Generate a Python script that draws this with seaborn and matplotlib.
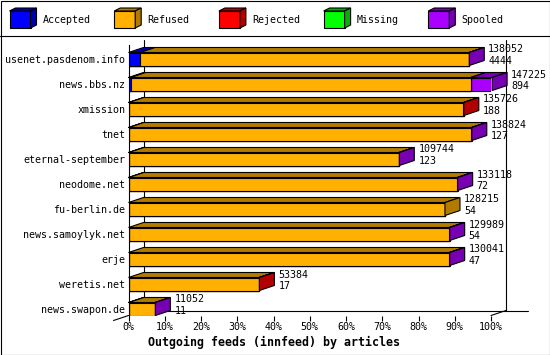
import numpy as np
import matplotlib
matplotlib.use("Agg")
import matplotlib.pyplot as plt
import seaborn as sns
import pandas as pd
from matplotlib.patches import Polygon, Rectangle
from matplotlib.lines import Line2D
from matplotlib.transforms import IdentityTransform, offset_copy

# ---------------- data ----------------
hosts = ["usenet.pasdenom.info", "news.bbs.nz", "xmission", "tnet",
         "eternal-september", "neodome.net", "fu-berlin.de",
         "news.samoylyk.net", "erje", "weretis.net", "news.swapon.de"]
accepted = [3.2, 0.6, 0.1, 0.1, 0.1, 0.1, 0.0, 0.0, 0.0, 0.0, 0.1]
refused = [90.7, 93.8, 92.3, 94.5, 74.5, 90.6, 87.3, 88.5, 88.5, 36.0, 7.2]
rejected = [0.0, 0.0, 0.1, 0.0, 0.0, 0.0, 0.0, 0.0, 0.0, 0.1, 0.0]
missing = [0.0] * 11
spooled = [0.1, 5.9, 0.0, 0.1, 0.1, 0.1, 0.0, 0.1, 0.1, 0.0, 0.1]
totals = [138052, 147225, 135726, 138824, 109744, 133118, 128215,
          129989, 130041, 53384, 11052]
counts = [4444, 894, 188, 127, 123, 72, 54, 54, 47, 17, 11]
categories = ["Accepted", "Refused", "Rejected", "Missing", "Spooled"]
xticks = list(range(0, 101, 10))
title = "Outgoing feeds (innfeed) by articles"

# ---------------- style ----------------
front = ["#0000FF", "#FFB000", "#FF0000", "#00FF00", "#AA00FF"]
shade = ["#0000B2", "#B27B00", "#B20000", "#00B200", "#7700B2"]

sns.set_style("white")
plt.rcParams["font.family"] = ["DejaVu Sans Mono", "DejaVu Sans"]
FS = 7.2
LW = 0.8
W, H = 550, 355
DX, DY = 15, 5

fig = plt.figure(figsize=(W / 100, H / 100), dpi=100)
ax = fig.add_axes([128.5 / W, (H - 315.5) / H, 362.5 / W, 270.5 / H])

series = np.array([accepted, refused, rejected, missing, spooled])
cum = np.cumsum(series, axis=0)
df = pd.DataFrame({"host": hosts})
for k in range(len(categories) - 1, -1, -1):
    df["v"] = cum[k]
    sns.barplot(data=df, x="v", y="host", orient="h", color=front[k],
                saturation=1, width=0.52, edgecolor="black", linewidth=LW,
                ax=ax, zorder=2)

ax.set_xlim(0, 100)
ax.set_ylim(10.26, -0.56)
ax.set_xlabel("")
ax.set_ylabel("")
for s in ["top", "right", "bottom"]:
    ax.spines[s].set_visible(False)
ax.spines["left"].set_color("black")
ax.spines["left"].set_linewidth(LW)
ax.set_yticks(range(len(hosts)), hosts)
ax.set_xticks(xticks, [f"{v}%" for v in xticks])
ax.tick_params(axis="y", length=0, pad=2.2, labelsize=FS, colors="black")
ax.tick_params(axis="x", length=3.6, width=LW, pad=0.8, labelsize=FS,
               colors="black", direction="out", bottom=True)

# back wall / floor lines
tb = offset_copy(ax.transData, fig=fig, x=DX, y=DY, units="dots")
for xv in (0, 100):
    ax.plot([xv, xv], [-0.56, 10.26], transform=tb, color="black", lw=LW,
            clip_on=False, zorder=0.5)
ax.plot([0, 106], [10.26, 10.26], transform=tb, color="black", lw=LW,
        clip_on=False, zorder=0.5)

fig.canvas.draw()
T = ax.transData


def poly(pts, fc, z=2.5):
    p = Polygon(pts, closed=True, facecolor=fc, edgecolor="black",
                linewidth=LW, transform=IdentityTransform(), zorder=z)
    p.set_clip_on(False)
    fig.add_artist(p)


# floor corner slants
c0 = T.transform((100, 10.26))
fig.add_artist(Line2D([c0[0], c0[0] + DX], [c0[1], c0[1] + DY], color="black",
                      lw=LW, transform=IdentityTransform()))
c1 = T.transform((0, 10.26))
fig.add_artist(Line2D([c1[0], c1[0] - DX], [c1[1], c1[1] - DY], color="black",
                      lw=LW, transform=IdentityTransform()))

# 3D faces of bars
half = 0.26
for i in range(len(hosts)):
    left = 0.0
    last = None
    for k in range(len(categories)):
        v = series[k][i]
        if v <= 0:
            continue
        a = T.transform((left, i - half))
        b = T.transform((left + v, i - half))
        poly([a, b, (b[0] + DX, b[1] + DY), (a[0] + DX, a[1] + DY)], shade[k])
        left += v
        last = k
    if last is not None:
        t = T.transform((left, i - half))
        u = T.transform((left, i + half))
        poly([t, u, (u[0] + DX, u[1] + DY), (t[0] + DX, t[1] + DY)], shade[last])
    ax.annotate(str(totals[i]), xy=(left, i), xycoords="data",
                xytext=(DX + 4, 9.5), textcoords="offset pixels",
                ha="left", va="center", fontsize=FS, color="black",
                annotation_clip=False, zorder=3)
    ax.annotate(str(counts[i]), xy=(left, i), xycoords="data",
                xytext=(DX + 4, -2), textcoords="offset pixels",
                ha="left", va="center", fontsize=FS, color="black",
                annotation_clip=False, zorder=3)

# legend
for k, name in enumerate(categories):
    x0 = 9.5 + 104.7 * k
    yt, yb = H - 11, H - 28
    poly([(x0, yb), (x0 + 21, yb), (x0 + 21, yt), (x0, yt)], front[k], 3)
    poly([(x0, yt), (x0 + 21, yt), (x0 + 27, yt + 3), (x0 + 6, yt + 3)], shade[k], 3)
    poly([(x0 + 21, yb), (x0 + 27, yb + 3), (x0 + 27, yt + 3), (x0 + 21, yt)], shade[k], 3)
    fig.text((x0 + 33) / W, (H - 20) / H, name, ha="left", va="center",
             fontsize=FS, color="black")

fig.add_artist(Line2D([0, W], [H - 35.5, H - 35.5], color="black", lw=LW,
                      transform=IdentityTransform()))
fig.add_artist(Rectangle((0.5, 0.5), W - 1, H - 1, fill=False, edgecolor="black",
                         linewidth=LW, transform=IdentityTransform()))

fig.text(274 / W, (H - 342) / H, title, ha="center", va="center",
         fontsize=8.4, fontweight="bold", color="black")

fig.savefig("out.png", dpi=100)
